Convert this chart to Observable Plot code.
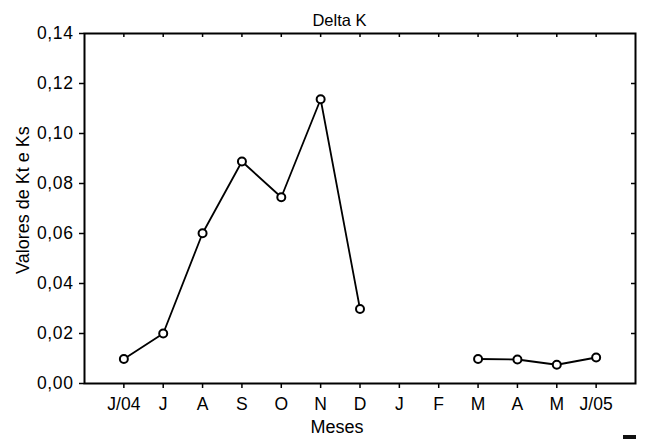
<!DOCTYPE html>
<html>
<head>
<meta charset="utf-8">
<script src="https://cdn.jsdelivr.net/npm/d3@7"></script>
<script src="https://cdn.jsdelivr.net/npm/@observablehq/plot@0.6"></script>
<style>
  html, body { margin: 0; padding: 0; background: #fff; }
  #wrap { position: relative; width: 654px; height: 439px; overflow: hidden; font-family: "Liberation Sans", Arial, sans-serif; }
  #mark { position: absolute; left: 623px; top: 435px; width: 13px; height: 6px; background: #111; }
  g[aria-label="ylabel"] text { letter-spacing: 0.9px; }
  g[aria-label="y-axis tick label"] text { letter-spacing: 0.6px; }
  g[aria-label="title"] text { letter-spacing: 0.2px; }
</style>
</head>
<body>
<div id="wrap">
  <div id="chart"></div>
  <div id="mark"></div>
</div>
<script>
const months = ["J/04", "J", "A", "S", "O", "N", "D", "J", "F", "M", "A", "M", "J/05"];
const values = [0.0098, 0.0200, 0.0601, 0.0888, 0.0745, 0.1137, 0.0298, null, null, 0.0098, 0.0096, 0.0075, 0.0104];
const yTicks = [0, 0.02, 0.04, 0.06, 0.08, 0.10, 0.12, 0.14];
const yInnerTicks = [0.02, 0.04, 0.06, 0.08, 0.10, 0.12];
const title = "Delta K";
const yLabel = "Valores de Kt e Ks";
const xLabel = "Meses";

const data = months.map((m, i) => ({i, m, v: values[i]}));
const idx = months.map((_, i) => i);
const fmt = v => d3.format(".2f")(v).replace(".", ",");

const W = 654, H = 439, mL = 84, mR = 19, mT = 33, mB = 56;
const frameH = H - mT - mB;
const frameW = W - mL - mR;

const plot = Plot.plot({
  width: W,
  height: H,
  marginLeft: mL,
  marginRight: mR,
  marginTop: mT,
  marginBottom: mB,
  style: { fontFamily: "Liberation Sans, Arial, sans-serif", fontSize: "17px", color: "#000", background: "#fff", overflow: "visible" },
  x: { type: "linear", domain: [-1, 13] },
  y: { domain: [0, 0.14] },
  marks: [
    Plot.axisX(idx, { tickFormat: i => months[i], tickSize: 5, tickPadding: 9, strokeWidth: 1.5, label: null, fontSize: 17.5 }),
    Plot.axisY(yTicks, { tickFormat: fmt, tickSize: 5, tickPadding: 6, strokeWidth: 1.5, label: null, fontSize: 17.5 }),
    Plot.tickX(idx, { x: d => d, insetBottom: frameH - 4, stroke: "#000", strokeWidth: 1.5 }),
    Plot.tickY(yInnerTicks, { y: d => d, insetLeft: frameW - 4, stroke: "#000", strokeWidth: 1.5 }),
    Plot.frame({ stroke: "#000", strokeWidth: 2 }),
    Plot.line(data, { x: "i", y: "v", stroke: "#000", strokeWidth: 1.8 }),
    Plot.dot(data.filter(d => d.v != null), { x: "i", y: "v", r: 4, fill: "#fff", stroke: "#000", strokeWidth: 2 }),
    Plot.text([title], { frameAnchor: "top", textAnchor: "middle", lineAnchor: "bottom", dx: -20.5, dy: -8, fontSize: 16.5, text: d => d, ariaLabel: "title" }),
    Plot.text([xLabel], { frameAnchor: "bottom", textAnchor: "middle", lineAnchor: "bottom", dy: 49, dx: -23, fontSize: 18, text: d => d }),
    Plot.text([yLabel], { frameAnchor: "left", textAnchor: "middle", lineAnchor: "middle", dx: -61.5, dy: -8.5, rotate: -90, fontSize: 18, text: d => d, ariaLabel: "ylabel" })
  ]
});
document.getElementById("chart").appendChild(plot);
</script>
</body>
</html>
